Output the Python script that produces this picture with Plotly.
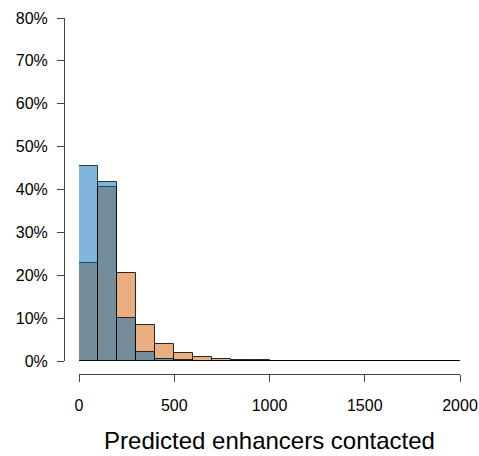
import plotly.graph_objects as go

# Bin starts (width 100) for "Predicted enhancers contacted"
bin_starts = [0, 100, 200, 300, 400, 500, 600, 700, 800, 900,
              1000, 1100, 1200, 1300, 1400, 1500, 1600, 1700, 1800, 1900]
# Percent of elements in each bin
blue_pct = [45.5, 41.7, 10.1, 2.1, 0.4, 0.12, 0.06, 0.05, 0.03, 0.02,
            0.02, 0.02, 0.01, 0.01, 0.01, 0.01, 0.02, 0.01, 0.01, 0.01]
orange_pct = [22.8, 40.6, 20.6, 8.5, 3.9, 1.8, 0.9, 0.55, 0.3, 0.2,
              0.1, 0.08, 0.06, 0.05, 0.04, 0.04, 0.06, 0.03, 0.03, 0.03]
bin_width = [100] * len(bin_starts)

y_ticks = [0, 10, 20, 30, 40, 50, 60, 70, 80]
x_ticks = [0, 500, 1000, 1500, 2000]

FONT = "Liberation Sans, Arial, Helvetica, sans-serif"

fig = go.Figure()
fig.add_trace(go.Bar(
    x=bin_starts, y=orange_pct, width=bin_width, offset=0,
    marker=dict(color="rgb(232,174,128)", line=dict(color="rgba(20,20,20,0.9)", width=1)),
    showlegend=False, hoverinfo="skip"))
fig.add_trace(go.Bar(
    x=bin_starts, y=blue_pct, width=bin_width, offset=0,
    marker=dict(color="rgba(0,107,181,0.5)", line=dict(color="rgba(0,0,0,0.75)", width=1)),
    showlegend=False, hoverinfo="skip"))

fig.update_layout(
    width=479, height=456,
    margin=dict(l=64, r=19, t=18, b=82, pad=0, autoexpand=False),
    barmode="overlay", bargap=0,
    plot_bgcolor="white", paper_bgcolor="white",
    font=dict(family=FONT, color="black", size=16),
    xaxis=dict(
        domain=[15 / 396, 1], range=[0, 2000], anchor="free", position=0,
        automargin=False,
        showline=True, linecolor="#444", linewidth=1,
        ticks="outside", ticklen=7, tickcolor="#444", tickwidth=1,
        tickvals=x_ticks, ticktext=[str(v) for v in x_ticks],
        tickfont=dict(size=16, family=FONT), ticklabelstandoff=10,
        showgrid=False, zeroline=False,
        title=dict(text="Predicted enhancers contacted", font=dict(size=24, family=FONT), standoff=18),
    ),
    yaxis=dict(
        domain=[13 / 356, 1], range=[0, 80], anchor="free", position=0,
        automargin=False,
        showline=True, linecolor="#444", linewidth=1,
        ticks="outside", ticklen=7, tickcolor="#444", tickwidth=1,
        tickvals=y_ticks, ticktext=[f"{v}%" for v in y_ticks],
        tickfont=dict(size=16, family=FONT), ticklabelstandoff=6,
        showgrid=False, zeroline=False,
    ),
)

fig.write_html("out.html")
